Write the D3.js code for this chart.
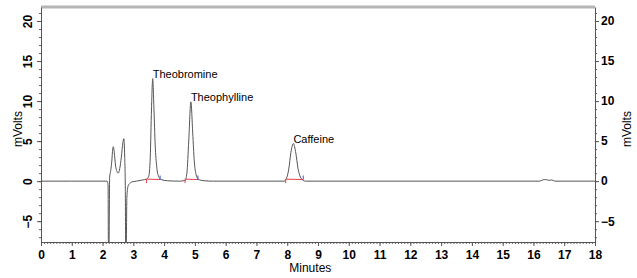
<!DOCTYPE html>
<html>
<head>
<meta charset="utf-8">
<script src="https://cdn.jsdelivr.net/npm/d3@7"></script>
<style>
  body { margin: 0; background: #fff; }
  svg text { font-family: "Liberation Sans", Arial, sans-serif; }
</style>
</head>
<body>
<div id="chart"></div>
<script>
// Trace: [minutes, mVolts]
const trace = [
  [0, 0], [1, 0], [2.15, 0], [2.18, -0.5], [2.19, -8], [2.21, -8], [2.23, 0.5],
  [2.26, 1.2], [2.3, 2.5], [2.33, 4.0], [2.35, 4.3], [2.38, 3.6], [2.42, 2.0],
  [2.47, 1.2], [2.51, 1.0], [2.56, 1.6], [2.61, 3.0], [2.66, 4.8], [2.69, 5.3],
  [2.72, 3.0], [2.74, -1], [2.75, -8], [2.77, -8], [2.79, -2], [2.83, -0.6],
  [2.88, -0.3], [2.95, -0.1], [3.1, 0], [3.3, 0.15], [3.43, 0.25], [3.5, 0.6],
  [3.55, 3], [3.59, 9], [3.63, 12.8], [3.67, 9], [3.71, 4.5], [3.76, 1.8],
  [3.82, 0.6], [3.9, 0.2], [4.1, 0.05], [4.5, 0], [4.68, 0.1], [4.74, 1],
  [4.8, 5], [4.87, 9.9], [4.93, 6], [4.98, 2.5], [5.04, 0.8], [5.12, 0.2],
  [5.3, 0.05], [5.6, 0], [7.9, 0], [7.97, 0.3], [8.05, 1.5], [8.12, 3.6],
  [8.2, 4.7], [8.28, 3.5], [8.35, 1.6], [8.43, 0.5], [8.52, 0.1], [8.6, 0],
  [16.2, 0], [16.3, 0.15], [16.4, 0.2], [16.5, 0.1], [16.6, 0.15], [16.7, 0], [18, 0]
];

// Named peaks
const peakNames = ["Theobromine", "Theophylline", "Caffeine"];
const peakTimes = [3.63, 4.87, 8.2];
const peakHeights = [12.8, 9.9, 4.7];
const peakStarts = [3.43, 4.68, 7.95];
const peakEnds = [3.87, 5.1, 8.52];

const xTicks = d3.range(0, 19);
const yTicks = [-5, 0, 5, 10, 15, 20];

const W = 637, H = 278;
const margin = { top: 7, right: 42, bottom: 36, left: 41 };
const width = W - margin.left - margin.right,
      height = H - margin.top - margin.bottom;

const svg = d3.select("#chart").append("svg")
  .attr("width", W).attr("height", H);

const g = svg.append("g")
  .attr("transform", `translate(${margin.left},${margin.top})`);

const x = d3.scaleLinear().domain([0, 18]).range([0, width]);
const y = d3.scaleLinear().domain([-7.6, 21.75]).range([height, 0]);

// clip for trace
svg.append("defs").append("clipPath").attr("id", "plot")
  .append("rect").attr("width", width).attr("height", height);

// top border
g.append("line")
  .attr("x1", 0).attr("x2", width).attr("y1", 0).attr("y2", 0)
  .attr("stroke", "#b5b5b5").attr("stroke-width", 3);

// minor ticks
g.append("g")
  .attr("transform", `translate(0,${height})`)
  .call(d3.axisBottom(x).tickValues(d3.range(0, 18.01, 0.1)).tickSize(2).tickFormat(""))
  .call(a => a.select(".domain").remove())
  .selectAll("line").attr("stroke", "#666");

g.append("g")
  .call(d3.axisLeft(y).tickValues(d3.range(-7, 22, 1)).tickSize(2).tickFormat(""))
  .call(a => a.select(".domain").remove())
  .selectAll("line").attr("stroke", "#666");

g.append("g")
  .attr("transform", `translate(${width},0)`)
  .call(d3.axisRight(y).tickValues(d3.range(-7, 22, 1)).tickSize(2).tickFormat(""))
  .call(a => a.select(".domain").remove())
  .selectAll("line").attr("stroke", "#666");

// major axes
const xAxis = g.append("g")
  .attr("transform", `translate(0,${height})`)
  .call(d3.axisBottom(x).tickValues(xTicks).tickSize(4).tickSizeOuter(0).tickPadding(4));

const yLeft = g.append("g")
  .call(d3.axisLeft(y).tickValues(yTicks).tickSize(4).tickSizeOuter(0));

const yRight = g.append("g")
  .attr("transform", `translate(${width},0)`)
  .call(d3.axisRight(y).tickValues(yTicks).tickSize(4).tickSizeOuter(0).tickPadding(2));

[xAxis, yLeft, yRight].forEach(a => {
  a.select(".domain").attr("stroke", "#555");
  a.selectAll(".tick line").attr("stroke", "#555");
  a.selectAll("text")
    .attr("fill", "#000")
    .style("font-size", "12px")
    .style("font-weight", "bold");
});

// rotated left tick labels
yLeft.selectAll(".tick text")
  .attr("text-anchor", "middle")
  .attr("transform", "rotate(-90)")
  .attr("x", 0).attr("y", -9)
  .attr("dy", "0");

// trace
const line = d3.line()
  .x(d => x(d[0]))
  .y(d => y(d[1]))
  .curve(d3.curveMonotoneX);

g.append("path")
  .datum(trace)
  .attr("clip-path", "url(#plot)")
  .attr("fill", "none")
  .attr("stroke", "#555")
  .attr("stroke-width", 1)
  .attr("d", line);

// integration baselines
peakNames.forEach((name, i) => {
  g.append("line")
    .attr("x1", x(peakStarts[i])).attr("x2", x(peakEnds[i]))
    .attr("y1", y(0.25)).attr("y2", y(0.2))
    .attr("stroke", "#e8404a").attr("stroke-width", 1);
  g.append("line")
    .attr("x1", x(peakStarts[i])).attr("x2", x(peakStarts[i]))
    .attr("y1", y(0.25)).attr("y2", y(0.25) + 4)
    .attr("stroke", "#e8404a");
  g.append("line")
    .attr("x1", x(peakEnds[i])).attr("x2", x(peakEnds[i]))
    .attr("y1", y(0.2) - 4).attr("y2", y(0.2))
    .attr("stroke", "#4050e0");
  g.append("text")
    .attr("x", x(peakTimes[i]))
    .attr("y", y(peakHeights[i]) - 1)
    .style("font-size", "11px")
    .attr("fill", "#000")
    .text(name);
});

// axis titles
svg.append("text")
  .attr("x", margin.left + x(8.75)).attr("y", 272)
  .attr("text-anchor", "middle")
  .style("font-size", "12px")
  .text("Minutes");

svg.append("text")
  .attr("transform", `translate(22,${margin.top + y(6.5)}) rotate(-90)`)
  .attr("text-anchor", "middle")
  .style("font-size", "12px")
  .text("mVolts");

svg.append("text")
  .attr("transform", `translate(631,${margin.top + y(6.5)}) rotate(-90)`)
  .attr("text-anchor", "middle")
  .style("font-size", "12px")
  .text("mVolts");
</script>
</body>
</html>
